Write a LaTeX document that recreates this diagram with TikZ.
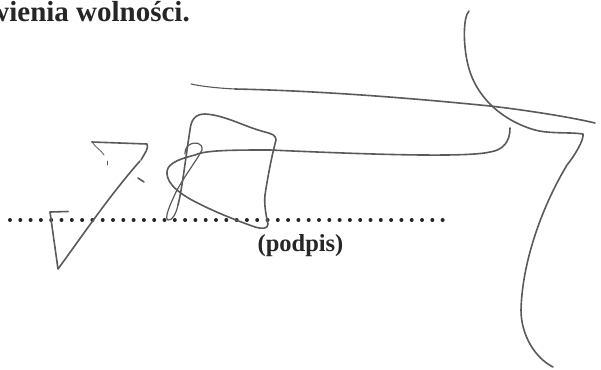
\documentclass[tikz,border=0pt]{standalone}
\usepackage{fontspec}
\setmainfont{Liberation Serif}
\definecolor{ink}{HTML}{5A5A5A}
\definecolor{printed}{HTML}{262626}
\tikzset{
  pen/.style={draw=ink,line width=1.6pt,line cap=round,line join=round},
  thinpen/.style={draw=ink,line width=0.8pt,line cap=round,line join=round},
  printtext/.style={text=printed,inner sep=0pt},
  dotline/.style={draw=printed,line width=4pt,line cap=round,dash pattern=on 0pt off 10.3pt}
}
\begin{document}
\begin{tikzpicture}[x=1pt,y=-1pt]
\useasboundingbox (0,0) rectangle (601,369);
\fill[white] (0,0) rectangle (601,369);
% printed text
\node[printtext,anchor=base east,font=\bfseries\fontsize{29}{31}\selectfont] (title) at (190,22) {wienia wolności.};
\coordinate (dotA) at (10,220);
\coordinate (dotB) at (448,220);
\draw[dotline] (dotA) -- (dotB);
\node[printtext,anchor=base,font=\bfseries\fontsize{24.5}{26}\selectfont] (caption) at (300.5,251) {(podpis)};
% left zig-zag
\draw[pen] (92,142) -- (147,144) .. controls (149,148) and (145,153) .. (141,160);
\draw[pen] (140,161) .. controls (110,195) and (85,232) .. (58,269) -- (50,212) -- (68,211.5);
\draw[thinpen] (92,142) .. controls (96,148) and (101,150) .. (104,155);
\draw[thinpen] (107,161) -- (107,165);
\draw[pen] (138,178) -- (144,182);
% main loop
\draw[pen] (510,128) .. controls (510,142) and (503,150) .. (490,152)
  .. controls (465,158) and (360,154) .. (270,150)
  .. controls (235,150) and (205,150) .. (195,155)
  .. controls (175,160) and (166,165) .. (167,174)
  .. controls (168,185) and (180,193) .. (190,199)
  .. controls (210,210) and (235,220) .. (255,227)
  .. controls (262,229) and (268,229) .. (268,224)
  .. controls (266,215) and (264,205) .. (265,195)
  .. controls (268,175) and (272,155) .. (276,140)
  .. controls (276,135) and (272,134) .. (265,132)
  .. controls (245,127) and (225,115) .. (205,114)
  .. controls (195,114) and (191,120) .. (190,130)
  .. controls (186,155) and (182,190) .. (178,205);
\draw[thinpen,line width=1.2pt] (178,205)
  .. controls (176,214) and (172,221) .. (168,220)
  .. controls (164,218) and (170,205) .. (176,192)
  .. controls (185,175) and (197,160) .. (202,150)
  .. controls (203,143) and (195,141) .. (189,145)
  .. controls (186,147) and (185,150) .. (185,154);
% long bar
\draw[thinpen,line width=1.1pt] (191,84) .. controls (200,86) and (215,88) .. (235,89);
\draw[pen] (235,89) .. controls (330,91) and (430,100) .. (490,106)
  .. controls (525,110) and (570,117) .. (595,123);
% right curve
\draw[pen] (469,11) .. controls (463,17) and (463,45) .. (468,65)
  .. controls (475,95) and (500,120) .. (535,130)
  .. controls (550,134) and (570,132) .. (583,134)
  .. controls (584,140) and (575,155) .. (567,165)
  .. controls (540,210) and (522,265) .. (521,310)
  .. controls (521,335) and (535,358) .. (553,367);
\end{tikzpicture}
\end{document}
